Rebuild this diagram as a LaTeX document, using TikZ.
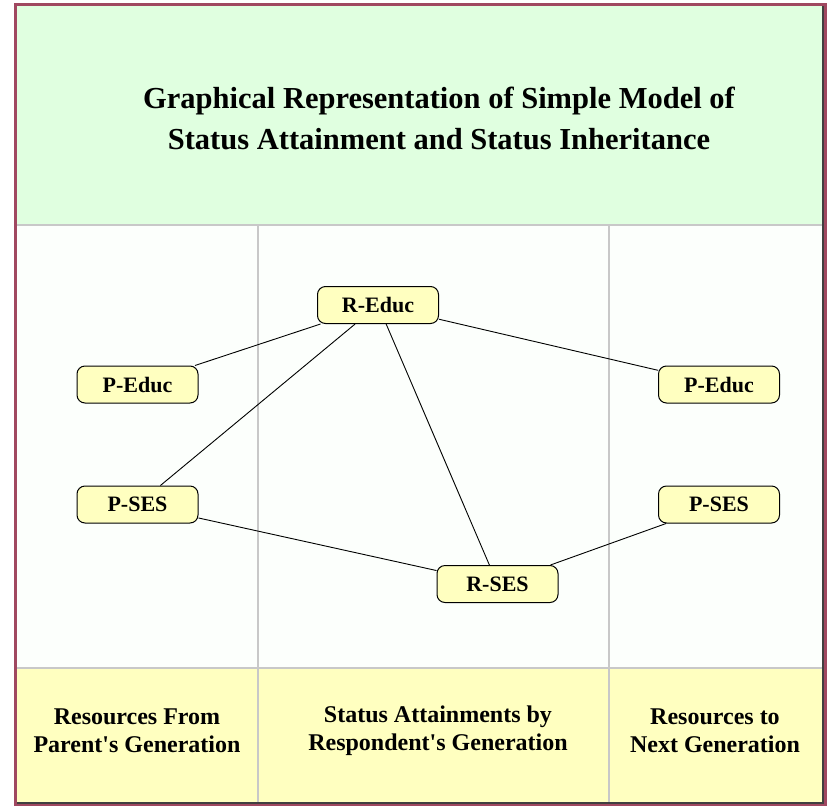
\documentclass[tikz,border=0pt]{standalone}
\usepackage{fontspec}
\setmainfont{Liberation Serif}
\usetikzlibrary{positioning}
\usepackage{xcolor}
\definecolor{hdrgreen}{RGB}{224,255,224}
\definecolor{ftyellow}{RGB}{255,255,192}
\definecolor{varyellow}{RGB}{255,255,192}
\definecolor{gridgray}{RGB}{200,200,200}
\definecolor{framered}{RGB}{160,72,96}

\begin{document}
\begin{tikzpicture}[
  x=1pt, y=-1pt,
  var/.style={draw, rounded corners=8pt, fill=varyellow, minimum width=121pt, minimum height=37pt, inner sep=0pt, line width=1pt, font=\fontsize{22}{24}\selectfont\bfseries},
  lbl/.style={align=center, font=\fontsize{24}{28}\selectfont\bfseries},
  link/.style={line width=0.9pt}
]
\useasboundingbox (0,0) rectangle (827,806);

% panels
\fill[hdrgreen] (17,6) rectangle (823,225);
\fill[white!99!green] (17,225) rectangle (823,668);
\fill[ftyellow] (17,668) rectangle (823,803);
\draw[gridgray, line width=1.5pt] (17,225) -- (823,225);
\draw[gridgray, line width=1.5pt] (17,668) -- (823,668);
\draw[gridgray, line width=1.5pt] (258,225) -- (258,803);
\draw[gridgray, line width=1.5pt] (609,225) -- (609,803);

% frame
\draw[framered, line width=3pt] (15.5,4.5) rectangle (825.5,804.5);
\draw[black!75, line width=1.2pt] (823,6) -- (823,803) -- (17,803);

% title and column labels
\node[lbl, font=\fontsize{30.5}{41}\selectfont\bfseries] (title) at (439,118)
  {Graphical Representation of Simple Model of\\Status Attainment and Status Inheritance};
\node[lbl] (colp) at (137,731) {Resources From\\Parent\textquotesingle s Generation};
\node[lbl] (colr) at (438,731) {Status Attainments by\\Respondent\textquotesingle s Generation};
\node[lbl] (coln) at (715,731) {Resources to\\Next Generation};

% variables
\node[var] (reduc) at (378,305) {R-Educ};
\node[var] (peduc) at (137.5,384.5) {P-Educ};
\node[var] (pses) at (137.5,504.5) {P-SES};
\node[var] (rses) at (497.5,584) {R-SES};
\node[var] (neduc) at (719,384.5) {P-Educ};
\node[var] (nses) at (719,504.5) {P-SES};

\draw[link] (peduc) -- (reduc);
\draw[link] (pses) -- (reduc);
\draw[link] (reduc) -- (rses);
\draw[link] (reduc) -- (neduc);
\draw[link] (pses) -- (rses);
\draw[link] (rses) -- (nses);
\end{tikzpicture}
\end{document}
